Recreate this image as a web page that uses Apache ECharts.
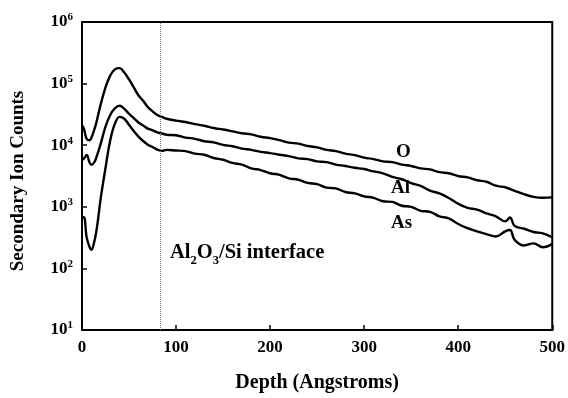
<!DOCTYPE html>
<html>
<head>
<meta charset="utf-8">
<script src="https://cdn.jsdelivr.net/npm/echarts@6/dist/echarts.min.js"></script>
<style>
html,body{margin:0;padding:0;background:#fff;}
#chart{width:568px;height:398px;}
</style>
</head>
<body>
<div id="chart"></div>
<script>
// Depth (Angstroms)
var depths = [0,2,5,8,10,13,15,17,20,25,30,35,40,45,50,55,60,65,70,75,80,85,90,
  100,110,120,130,140,150,160,170,180,190,200,210,220,230,240,250,260,270,280,290,
  300,310,320,330,340,350,360,370,380,390,400,410,420,430,440,450,455,460,470,480,490,500];

var countsO = [20900,18600,12600,12000,13200,17800,22400,30200,46800,87100,135000,170000,178000,151000,117000,87100,64600,52500,41700,35500,30900,28800,26900,
  25100,23800,22000,20700,19000,18000,16800,15600,15000,13700,13000,12100,11000,10600,9700,9200,8400,8000,7300,6900,
  6300,5950,5450,5300,4850,4600,4200,4050,3650,3500,3150,3000,2700,2550,2200,2080,1950,1820,1600,1450,1400,1420];

var countsAl = [5750,6030,6920,5250,4790,5250,6170,7590,10700,20000,30900,39800,43700,38900,32400,27500,23400,20900,18600,17400,16200,15500,14800,
  14500,13300,12700,11600,11100,10100,9600,8800,8400,7800,7450,7000,6650,6100,5950,5450,5300,4850,4600,4300,
  4100,3750,3500,3050,2800,2420,2180,1830,1650,1390,1120,960,900,780,700,580,670,490,440,390,370,320];

var countsAs = [676,676,316,224,200,269,380,617,1410,4270,12000,22400,28800,26900,21400,17000,13800,11700,10200,9330,8510,8100,8400,
  8200,8000,7300,7000,6200,5800,5150,4850,4200,3950,3500,3300,2900,2750,2450,2330,2050,1990,1740,1650,
  1480,1400,1230,1200,1040,1000,860,830,700,650,525,450,400,360,330,400,420,290,235,255,220,250];

var seriesNames = ['O','Al','As'];
var xTicks = [0,100,200,300,400,500];
var yTickExponents = [1,2,3,4,5,6];
var interfaceDepth = 83;

function pairs(vals){ return depths.map(function(d,i){ return [d, vals[i]]; }); }

var FONT = '"Liberation Serif","Times New Roman",serif';
var chart = echarts.init(document.getElementById('chart'), null, {renderer:'canvas'});

var lineStyle = {color:'#000', width:2.4};

chart.setOption({
  animation:false,
  backgroundColor:'#fff',
  grid:{left:82, top:22, right:14, bottom:64, show:true, borderColor:'#000', borderWidth:2, backgroundColor:'transparent'},
  xAxis:{
    type:'value', min:xTicks[0], max:xTicks[xTicks.length-1], interval:100,
    name:'Depth (Angstroms)', nameLocation:'middle', nameGap:43,
    nameTextStyle:{fontFamily:FONT, fontWeight:'bold', fontSize:20, color:'#000'},
    axisLine:{show:true, lineStyle:{color:'#000', width:2}},
    axisTick:{show:true, inside:true, length:5, lineStyle:{color:'#000', width:1.5}},
    axisLabel:{fontFamily:FONT, fontWeight:'bold', fontSize:17, color:'#000', margin:9},
    splitLine:{show:false}
  },
  yAxis:{
    type:'log', logBase:10, min:Math.pow(10,yTickExponents[0]), max:Math.pow(10,yTickExponents[yTickExponents.length-1]),
    name:'Secondary Ion Counts', nameLocation:'middle', nameGap:54, nameRotate:90,
    nameTextStyle:{fontFamily:FONT, fontWeight:'bold', fontSize:19, color:'#000', padding:[0,0,0,-10]},
    axisLine:{show:true, lineStyle:{color:'#000', width:2}},
    axisTick:{show:true, inside:true, length:5, lineStyle:{color:'#000', width:1.5}},
    minorTick:{show:false},
    splitLine:{show:false},
    axisLabel:{
      margin:9,
      formatter:function(v){
        var e = Math.round(Math.log10(v));
        return '{b|10}{s|' + e + '}';
      },
      rich:{
        b:{fontFamily:FONT, fontWeight:'bold', fontSize:17, color:'#000'},
        s:{fontFamily:FONT, fontWeight:'bold', fontSize:11, color:'#000', verticalAlign:'bottom', padding:[0,0,9,0]}
      }
    }
  },
  series:[
    {name:seriesNames[0], type:'line', data:pairs(countsO), showSymbol:false, smooth:0.4, lineStyle:lineStyle, itemStyle:{color:'#000'},
     markLine:{silent:true, symbol:'none', label:{show:false},
       lineStyle:{type:'dotted', color:'#777', width:1}, data:[{xAxis:interfaceDepth}]}},
    {name:seriesNames[1], type:'line', data:pairs(countsAl), showSymbol:false, smooth:0.4, lineStyle:lineStyle, itemStyle:{color:'#000'}},
    {name:seriesNames[2], type:'line', data:pairs(countsAs), showSymbol:false, smooth:0.4, lineStyle:lineStyle, itemStyle:{color:'#000'}}
  ],
  graphic:[
    {type:'text', x:396, y:143, style:{text:'O', font:'bold 19px '+FONT, fill:'#000'}},
    {type:'text', x:391, y:179, style:{text:'Al', font:'bold 19px '+FONT, fill:'#000'}},
    {type:'text', x:391, y:214, style:{text:'As', font:'bold 19px '+FONT, fill:'#000'}},
    {type:'text', x:170, y:242, style:{
      text:'{t|Al}{u|2}{t|O}{u|3}{t|/Si interface}',
      rich:{
        t:{fontFamily:FONT, fontWeight:'bold', fontSize:20.5, fill:'#000', color:'#000', verticalAlign:'bottom', padding:[0,0,4,0]},
        u:{fontFamily:FONT, fontWeight:'bold', fontSize:12.5, fill:'#000', color:'#000', verticalAlign:'bottom'}
      }
    }}
  ]
});
</script>
</body>
</html>
